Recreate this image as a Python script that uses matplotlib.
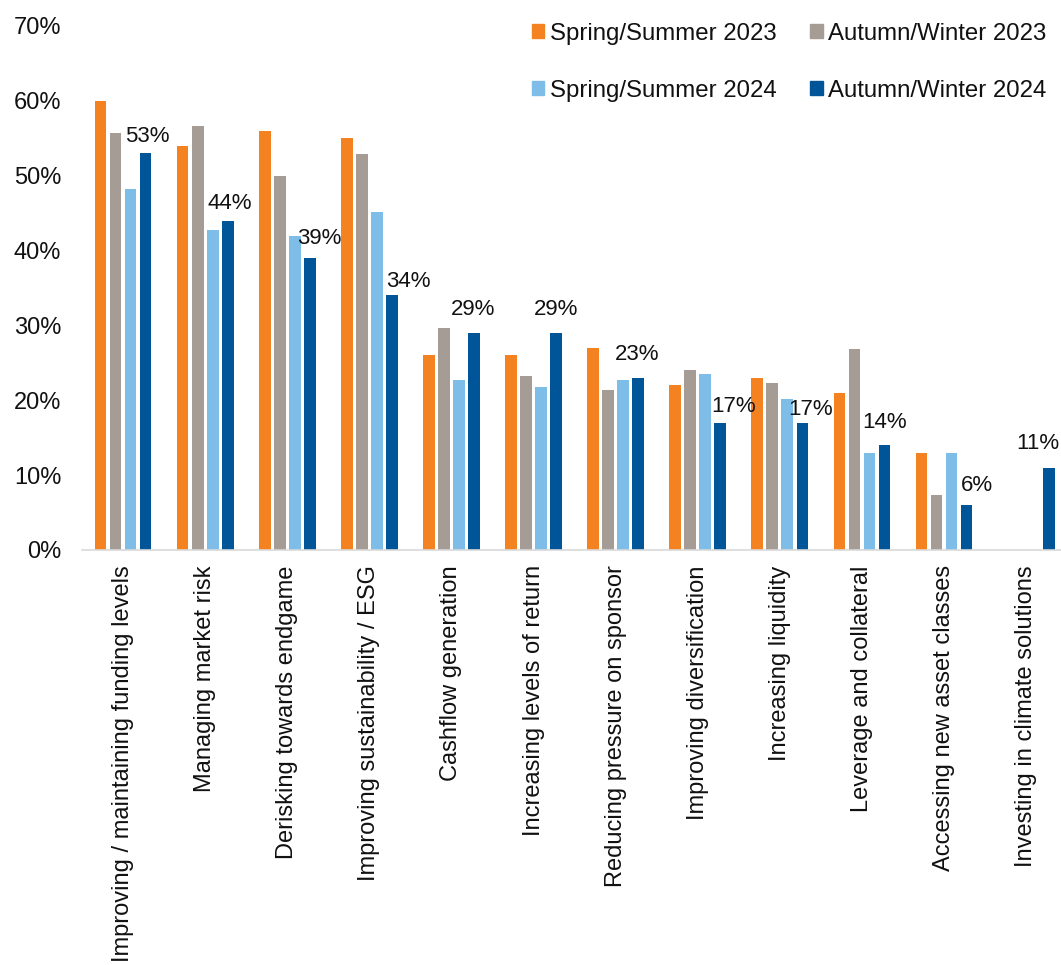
import matplotlib.pyplot as plt
import numpy as np
from matplotlib.patches import Patch

plt.rcParams['font.family'] = ['Liberation Sans', 'DejaVu Sans']

# categories and survey results (%)
categories = [
    "Improving / maintaining funding levels",
    "Managing market risk",
    "Derisking towards endgame",
    "Improving sustainability / ESG",
    "Cashflow generation",
    "Increasing levels of return",
    "Reducing pressure on sponsor",
    "Improving diversification",
    "Increasing liquidity",
    "Leverage and collateral",
    "Accessing new asset classes",
    "Investing in climate solutions",
]
series_names = ["Spring/Summer 2023", "Autumn/Winter 2023",
                "Spring/Summer 2024", "Autumn/Winter 2024"]
ss23 = [60, 54, 56, 55, 26, 26, 27, 22, 23, 21, 13, 0]
aw23 = [55.7, 56.6, 50, 52.9, 29.7, 23.2, 21.4, 24.1, 22.3, 26.9, 7.4, 0]
ss24 = [48.2, 42.7, 41.9, 45.1, 22.7, 21.8, 22.7, 23.5, 20.2, 13, 13, 0]
aw24 = [53, 44, 39, 34, 29, 29, 23, 17, 17, 14, 6, 11]

colors = ["#F58220", "#A59D95", "#7DBDE8", "#005598"]

# label nudges for the last series, in pixels (dx, dy)
label_offsets = [(2, 17), (2, 17), (10, 20), (16, 14), (-1, 23), (0, 23),
                 (-1, 23), (13, 16), (8, 13), (0, 23), (10, 20), (-11, 24)]

W, H = 1061, 965
fig = plt.figure(figsize=(W / 100, H / 100), dpi=100)
ax = fig.add_axes([82 / W, (H - 550) / H, (1061 - 82) / W, (550 - 26) / H])

x = np.arange(len(categories))
pitch = 0.183
width = 0.143
all_series = [ss23, aw23, ss24, aw24]
for i, (vals, c, name) in enumerate(zip(all_series, colors, series_names)):
    ax.bar(x + (i - 1.5) * pitch, vals, width, color=c, label=name, zorder=2)

for xi, v, (dx, dy) in zip(x, aw24, label_offsets):
    ax.annotate(f"{v:.0f}%", (xi + 1.5 * pitch, v), xytext=(dx, dy),
                textcoords='offset pixels', ha='center', va='center',
                fontsize=16, color='#111111')

ax.set_ylim(0, 70)
ax.set_xlim(-0.5, -0.5 + 979 / 82.1)
ax.set_yticks(range(0, 71, 10))
ax.set_yticklabels([f"{t}%" for t in range(0, 71, 10)])
ax.set_xticks(x)
ax.set_xticklabels(categories, rotation=90, va='top', ha='center')
ax.tick_params(axis='y', length=0, pad=15, labelsize=17, labelcolor='#111111')
ax.tick_params(axis='x', length=0, pad=11, labelsize=17, labelcolor='#111111')
for s in ['top', 'right', 'left']:
    ax.spines[s].set_visible(False)
ax.spines['bottom'].set_color('#d9d9d9')
ax.spines['bottom'].set_linewidth(1.2)

# legend laid out row by row: matplotlib fills columns first
order = [0, 2, 1, 3]
handles = [Patch(color=colors[k]) for k in order]
labels = [series_names[k] for k in order]
leg = fig.legend(handles, labels, ncol=2, frameon=False,
                 loc='upper left', bbox_to_anchor=(532 / W, 1 - 23 / H),
                 fontsize=17.3, handlelength=0.52, handleheight=0.52,
                 handletextpad=0.22, columnspacing=1.4, labelspacing=1.45,
                 borderpad=0, borderaxespad=0)
for t in leg.get_texts():
    t.set_color('#111111')

fig.savefig("out.png", dpi=100)
